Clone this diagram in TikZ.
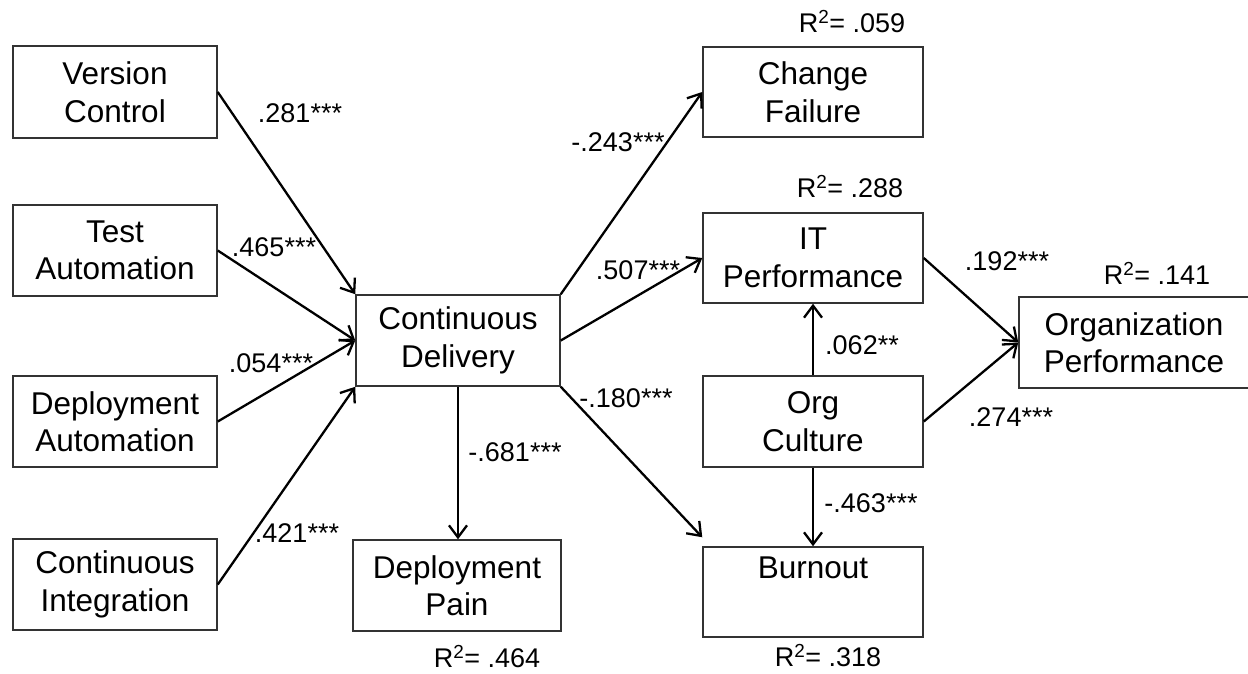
\documentclass[tikz,border=0pt]{standalone}
\usepackage{fontspec}
\setmainfont{Liberation Sans}
\usetikzlibrary{arrows.meta}
\begin{document}
\begin{tikzpicture}[x=1pt,y=-1pt,
  box/.style={draw=black!80, line width=1.5pt, inner sep=0pt, align=center,
    font=\fontsize{31.5}{37.5}\selectfont},
  lbl/.style={font=\fontsize{27}{32}\selectfont, inner sep=0pt, anchor=base},
  arr/.style={line width=2.3pt, -{Straight Barb[length=12pt,width=18pt,line width=2.3pt]}}]
\useasboundingbox (0,0) rectangle (1248,673);
\fill[white] (0,0) rectangle (1248,673);

% left column
\node[box, minimum width=204pt, minimum height=92pt] (vc) at (115,92) {Version\\Control};
\node[box, minimum width=204pt, minimum height=91pt] (ta) at (115,250.5) {Test\\Automation};
\node[box, minimum width=204pt, minimum height=91pt] (da) at (115,421.5) {Deployment\\Automation};
\node[box, minimum width=204pt, minimum height=91pt] (ci) at (115,584.5) {Continuous\\Integration};

% middle column
\node[box, minimum width=204pt, minimum height=91pt] (cd) at (458,340.5) {Continuous\\Delivery};
\node[box, minimum width=208pt, minimum height=91pt] (dp) at (457,585.5) {Deployment\\Pain};

% right column
\node[box, minimum width=220pt, minimum height=90pt] (cf) at (813,92) {Change\\Failure};
\node[box, minimum width=220pt, minimum height=90pt] (it) at (813,258) {IT\\Performance};
\node[box, minimum width=220pt, minimum height=91pt] (oc) at (813,421.5) {Org\\Culture};
\node[box, minimum width=220pt, minimum height=90pt] (bo) at (813,592) {Burnout\\\strut};
\node[box, minimum width=230pt, minimum height=91pt] (op) at (1134,342.5) {Organization\\Performance};

% connectors
\draw[arr] (vc.east) -- (cd.north west);
\draw[arr] (ta.east) -- (cd.west);
\draw[arr] (da.east) -- (cd.west);
\draw[arr] (ci.east) -- (cd.south west);
\draw[arr] (cd.north east) -- (cf.west);
\draw[arr] (cd.east) -- (it.west);
\draw[arr] (cd.south) -- (cd.south |- dp.north);
\draw[arr] (cd.south east) -- ([yshift=9pt]bo.north west);
\draw[arr] (it.east) -- (op.west);
\draw[arr] (oc.east) -- (op.west);
\draw[arr] (oc.north) -- (it.south);
\draw[arr] (oc.south) -- (bo.north);

% path coefficients
\node[lbl] (l1) at (300,122.5) {.281***};
\node[lbl] (l2) at (274,256.5) {.465***};
\node[lbl] (l3) at (271,372.5) {.054***};
\node[lbl] (l4) at (297,542.5) {.421***};
\node[lbl] (l5) at (618,151.5) {-.243***};
\node[lbl] (l6) at (638,279.5) {.507***};
\node[lbl] (l7) at (626,407.5) {-.180***};
\node[lbl] (l8) at (515,461.5) {-.681***};
\node[lbl] (l9) at (1007,270.5) {.192***};
\node[lbl] (l10) at (862,354.5) {.062**};
\node[lbl] (l11) at (1011,426.5) {.274***};
\node[lbl] (l12) at (871,512.5) {-.463***};

% R squared
\node[lbl] (r1) at (852,32.5) {R\textsuperscript{2}= .059};
\node[lbl] (r2) at (850,197.5) {R\textsuperscript{2}= .288};
\node[lbl] (r3) at (1157,284.5) {R\textsuperscript{2}= .141};
\node[lbl] (r4) at (487,667.5) {R\textsuperscript{2}= .464};
\node[lbl] (r5) at (828,666.5) {R\textsuperscript{2}= .318};
\end{tikzpicture}
\end{document}
